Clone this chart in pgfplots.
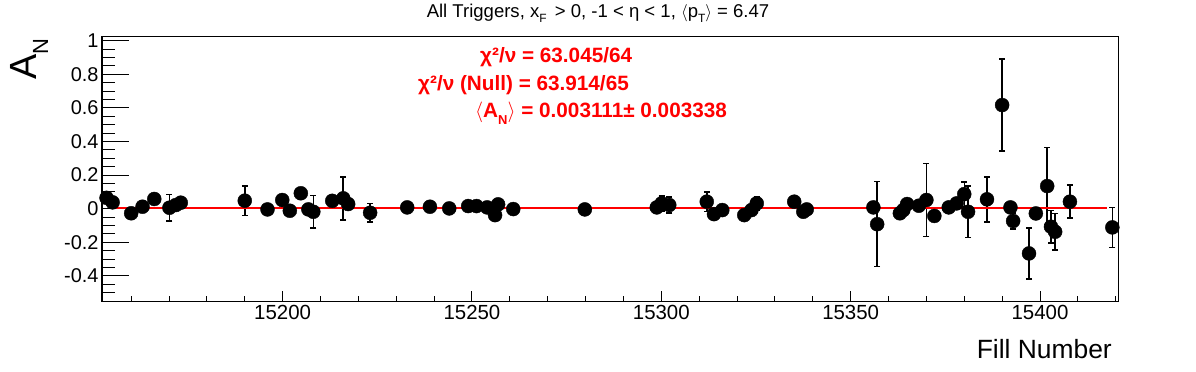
\documentclass[border=0pt]{standalone}
\usepackage{pgfplots}
\usepackage{pgfplotstable}
\pgfplotsset{compat=1.18}
\usepackage{fontspec}
\setmainfont{Liberation Sans}
\pgfplotstableread{
x y e
15153.5 0.065 0.03
15155.1 0.038 0.02
15160.0 -0.027 0.02
15163.0 0.012 0.02
15166.1 0.058 0.02
15170.1 0.006 0.08
15171.8 0.022 0.02
15173.1 0.036 0.02
15190.0 0.048 0.087
15196.0 -0.004 0.02
15199.9 0.052 0.02
15201.9 -0.012 0.02
15204.8 0.092 0.02
15206.8 -0.004 0.02
15208.1 -0.018 0.097
15213.1 0.047 0.02
15216.0 0.062 0.128
15217.3 0.028 0.02
15223.1 -0.024 0.054
15232.9 0.008 0.02
15238.9 0.012 0.02
15244.0 0.002 0.02
15249.0 0.016 0.02
15251.2 0.016 0.02
15254.0 0.008 0.02
15256.1 -0.038 0.02
15256.9 0.026 0.02
15260.9 -0.002 0.02
15279.8 -0.004 0.02
15298.8 0.008 0.02
15300.1 0.032 0.045
15302.1 0.022 0.047
15312.0 0.042 0.057
15313.9 -0.032 0.02
15316.1 -0.008 0.02
15321.9 -0.038 0.02
15323.8 -0.008 0.02
15325.2 0.032 0.04
15335.1 0.042 0.02
15337.5 -0.018 0.02
15338.4 -0.004 0.02
15356.0 0.008 0.02
15357.0 -0.092 0.253
15363.0 -0.027 0.02
15363.9 -0.008 0.02
15364.9 0.028 0.02
15368.0 0.018 0.02
15370.0 0.052 0.217
15372.1 -0.043 0.02
15375.9 0.008 0.02
15378.0 0.032 0.02
15380.0 0.087 0.073
15381.0 -0.018 0.152
15386.0 0.056 0.134
15390.0 0.617 0.274
15392.2 0.008 0.02
15392.9 -0.073 0.048
15397.1 -0.266 0.151
15398.9 -0.028 0.02
15401.9 0.135 0.228
15402.9 -0.107 0.096
15404.0 -0.137 0.11
15407.9 0.042 0.098
15419.1 -0.111 0.119
}\data
\pgfplotsset{
  rootaxis/.style={
    at={(0,0)}, anchor=south west,
    scale only axis, width=1016bp, height=264bp,
    xmin=15152.3, xmax=15420.6, ymin=-0.549, ymax=1.022,
    axis line style={line width=1bp},
    tick align=inside, xtick pos=left, ytick pos=left,
    every tick/.style={black, line width=1bp},
    scaled ticks=false,
    /pgf/number format/assume math mode=true,
    /pgf/number format/1000 sep={},
  }
}
\begin{document}
\begin{tikzpicture}
\useasboundingbox (-102bp,-71bp) rectangle (1094bp,301bp);
% y-axis ticks
\begin{axis}[rootaxis,
  xtick=\empty,
  ytick={-0.4,-0.2,0,0.2,0.4,0.6,0.8,1},
  yticklabels={-0.4,-0.2,0,0.2,0.4,0.6,0.8,1},
  minor ytick={-0.5,-0.45,-0.35,-0.3,-0.25,-0.15,-0.1,-0.05,0.05,0.1,0.15,0.25,0.3,0.35,0.45,0.5,0.55,0.65,0.7,0.75,0.85,0.9,0.95},
  major tick length=27bp, minor tick length=13bp,
  yticklabel style={font=\fontsize{20}{24}\selectfont},
]
\end{axis}
% x-axis ticks and data
\begin{axis}[rootaxis,
  ytick=\empty,
  xtick={15200,15250,15300,15350,15400},
  minor xtick={15160,15170,15180,15190,15210,15220,15230,15240,15260,15270,15280,15290,15310,15320,15330,15340,15360,15370,15380,15390,15410,15420},
  major tick length=10bp, minor tick length=5bp,
  xticklabel style={font=\fontsize{20.5}{24}\selectfont, yshift=-1bp},
]
\addplot[gray!60, dashed, line width=0.8bp] coordinates {(15155.2,0) (15417.7,0)};
\addplot[black, only marks, mark=*, mark size=7bp,
  mark options={fill=black, draw=black},
  error bars/.cd, y dir=both, y explicit,
  error bar style={line width=1.5bp, black},
  error mark options={rotate=90, mark size=3bp, line width=1.5bp, black}]
  table[x=x, y=y, y error=e]{\data};
\addplot[red, line width=2bp] coordinates {(15155.2,0.003111) (15417.7,0.003111)};
\end{axis}
\begin{scope}[every node/.style={inner sep=0pt}]
\node[anchor=center] at (496bp,288bp) {\fontsize{18.6}{22}\selectfont All Triggers, x\raisebox{-0.55ex}{\fontsize{12}{12}\selectfont F} \,> 0, -1 < η < 1, $\langle$p\raisebox{-0.55ex}{\fontsize{12}{12}\selectfont T}$\rangle$ = 6.47};
\node[anchor=west, text=red] at (378bp,244bp) {\fontsize{20.8}{24}\selectfont\bfseries χ²/ν = 63.045/64};
\node[anchor=west, text=red] at (316bp,216bp) {\fontsize{20.8}{24}\selectfont\bfseries χ²/ν (Null) = 63.914/65};
\node[anchor=west, text=red] at (373bp,188bp) {\fontsize{20.8}{24}\selectfont\bfseries $\langle$A\raisebox{-0.6ex}{\fontsize{13}{13}\selectfont N}$\rangle$ = 0.003111± 0.003338};
\node[anchor=east, rotate=90] at (-73bp,263bp) {\fontsize{38}{44}\selectfont A\raisebox{-0.6ex}{\fontsize{22}{22}\selectfont N}};
\node[anchor=east] at (1010bp,-48bp) {\fontsize{26.5}{30}\selectfont Fill Number};
\end{scope}
\end{tikzpicture}
\end{document}
